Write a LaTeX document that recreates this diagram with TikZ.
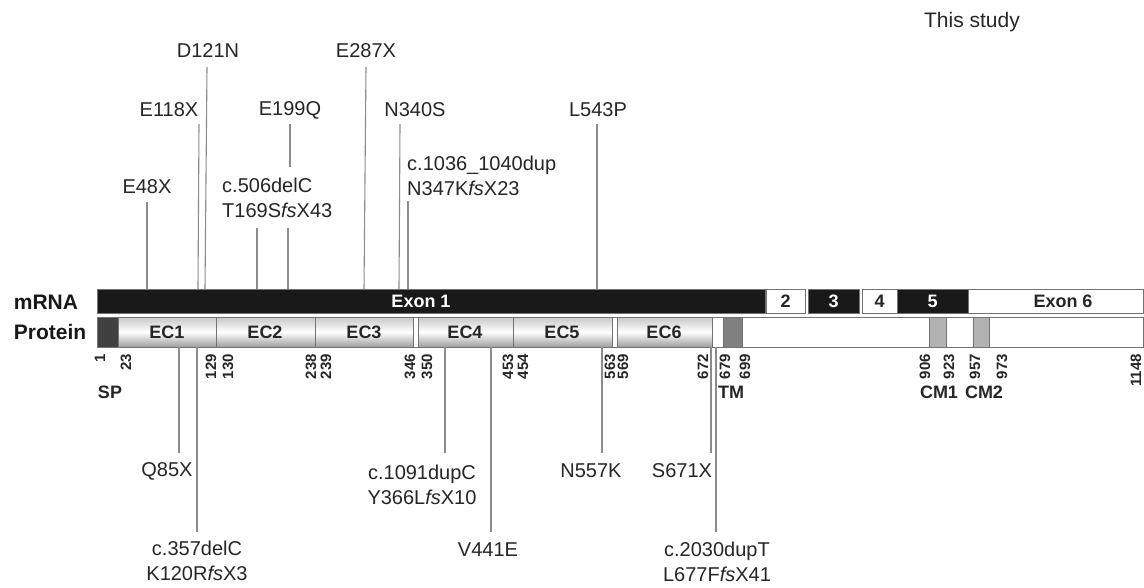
\documentclass[tikz,border=0pt]{standalone}
\usepackage{fontspec}
\setmainfont{Liberation Sans}
\newcommand\mutline[5]{%
  \coordinate (#1-a) at (#2,#3);
  \coordinate (#1-b) at (#4,#5);
  \draw[mut] (#1-a) -- (#1-b);}
\tikzset{
  mut/.style={draw=black!45, line width=1.1pt},
  lbl/.style={font=\fontsize{20}{25}\selectfont, inner sep=0pt, text=black!85},
  bx/.style={draw=black!55, line width=1pt},
  ecfill/.style={top color=black!22, bottom color=black!38, middle color=white},
  num/.style={font=\bfseries\fontsize{15}{16}\selectfont, rotate=90, anchor=east, inner sep=0pt, text=black!85},
  dom/.style={font=\bfseries\fontsize{18}{20}\selectfont, inner sep=0pt, text=black!85},
  side/.style={font=\bfseries\fontsize{21}{24}\selectfont, inner sep=0pt, text=black!90},
}
\begin{document}
\begin{tikzpicture}[x=1pt,y=-1pt]
\useasboundingbox[fill=white] (0,0) rectangle (1144,587);

% ---------- mRNA ----------
\node[side] (mrnalbl) at (46,302) {mRNA};
\draw[bx, fill=black!90] (97,289) rectangle (765,313);
\node[dom, text=white] (ex1) at (421,301) {Exon 1};
\draw[bx, fill=white] (766,289) rectangle (805,313);
\node[dom] (ex2) at (785.5,301) {2};
\draw[bx, fill=black!90] (808,289) rectangle (859,313);
\node[dom, text=white] (ex3) at (833.5,301) {3};
\draw[bx, fill=white] (862,289) rectangle (897,313);
\node[dom] (ex4) at (879.5,301) {4};
\draw[bx, fill=black!90] (897,289) rectangle (968,313);
\node[dom, text=white] (ex5) at (932.5,301) {5};
\draw[bx, fill=white] (968,289) rectangle (1143,313);
\node[dom] (ex6) at (1063,301) {Exon 6};

% ---------- Protein ----------
\node[side] (protlbl) at (50,332) {Protein};
\draw[bx, fill=white] (97,317) rectangle (1143,347);
\draw[bx, fill=black!75] (97,317) rectangle (118,347);
\draw[bx, ecfill] (118,317) rectangle (216,347);
\draw[bx, ecfill] (216,317) rectangle (315,347);
\draw[bx, ecfill] (315,317) rectangle (413,347);
\draw[bx, ecfill] (418,317) rectangle (513,347);
\draw[bx, ecfill] (513,317) rectangle (612,347);
\draw[bx, ecfill] (617,317) rectangle (712,347);
\draw[bx, fill=black!50] (723,317) rectangle (742,347);
\draw[bx, fill=black!30] (929,317) rectangle (946,347);
\draw[bx, fill=black!30] (973,317) rectangle (989,347);
\node[dom] (ec1) at (167,332) {EC1};
\node[dom] (ec2) at (265,332) {EC2};
\node[dom] (ec3) at (364,332) {EC3};
\node[dom] (ec4) at (465,332) {EC4};
\node[dom] (ec5) at (562,332) {EC5};
\node[dom] (ec6) at (664,332) {EC6};

% ---------- residue numbers ----------
\node[num] (n1) at (100,354) {1};
\node[num] (n23) at (126,354) {23};
\node[num] (n129) at (211,354) {129};
\node[num] (n130) at (228,354) {130};
\node[num] (n238) at (311,354) {238};
\node[num] (n239) at (326,354) {239};
\node[num] (n346) at (410,354) {346};
\node[num] (n350) at (427,354) {350};
\node[num] (n453) at (508,354) {453};
\node[num] (n454) at (523,354) {454};
\node[num] (n563) at (610,354) {563};
\node[num] (n569) at (623,354) {569};
\node[num] (n672) at (703,354) {672};
\node[num] (n679) at (725,354) {679};
\node[num] (n699) at (745,354) {699};
\node[num] (n906) at (925,354) {906};
\node[num] (n923) at (949,354) {923};
\node[num] (n957) at (975,354) {957};
\node[num] (n973) at (1002,354) {973};
\node[num] (n1148) at (1136,354) {1148};

\node[dom] (sp) at (110,392) {SP};
\node[dom] (tm) at (731,392) {TM};
\node[dom] (cm1) at (939,392) {CM1};
\node[dom] (cm2) at (984,392) {CM2};

% ---------- title ----------
\node[lbl, font=\fontsize{21}{25}\selectfont] (study) at (972,22) {This study};

% ---------- mutations above ----------
\node[lbl] (e48x) at (147,187) {E48X};
\mutline{l48}{147}{202}{147}{289}
\node[lbl] (e118x) at (169,110) {E118X};
\mutline{l118}{199}{124}{198}{289}
\node[lbl] (d121n) at (208,51) {D121N};
\mutline{l121}{207}{67}{205}{289}
\node[lbl] (e199q) at (290,110) {E199Q};
\mutline{l199}{290}{124}{290}{167}
\node[lbl, anchor=west, align=left] (c506) at (222,198) {c.506delC\\T169S\textit{fs}X43};
\mutline{l506}{257}{228}{257}{289}
\mutline{l199b}{288}{228}{288}{289}
\node[lbl] (e287x) at (366,51) {E287X};
\mutline{l287}{366}{67}{364}{289}
\node[lbl] (n340s) at (415,110) {N340S};
\mutline{l340}{400}{124}{399}{289}
\node[lbl, anchor=west, align=left] (c1036) at (407,176) {c.1036\_1040dup\\N347K\textit{fs}X23};
\mutline{l1036}{408}{201}{408}{289}
\node[lbl] (l543p) at (598,110) {L543P};
\mutline{l543}{597}{124}{597}{289}

% ---------- mutations below ----------
\node[lbl] (q85x) at (167,471) {Q85X};
\mutline{l85}{179}{347}{179}{453}
\node[lbl, align=center] (c357) at (197,561) {c.357delC\\K120R\textit{fs}X3};
\mutline{l357}{197}{347}{197}{532}
\node[lbl, align=center] (c1091) at (422,485) {c.1091dupC\\Y366L\textit{fs}X10};
\mutline{l1091}{445}{347}{445}{453}
\node[lbl] (v441e) at (488,550) {V441E};
\mutline{l441}{491}{347}{491}{532}
\node[lbl] (n557k) at (591,471) {N557K};
\mutline{l557}{602}{347}{602}{453}
\node[lbl] (s671x) at (682,471) {S671X};
\mutline{l671}{711}{347}{711}{453}
\node[lbl, align=center] (c2030) at (717,562) {c.2030dupT\\L677F\textit{fs}X41};
\mutline{l2030}{716}{347}{716}{532}
\end{tikzpicture}
\end{document}
